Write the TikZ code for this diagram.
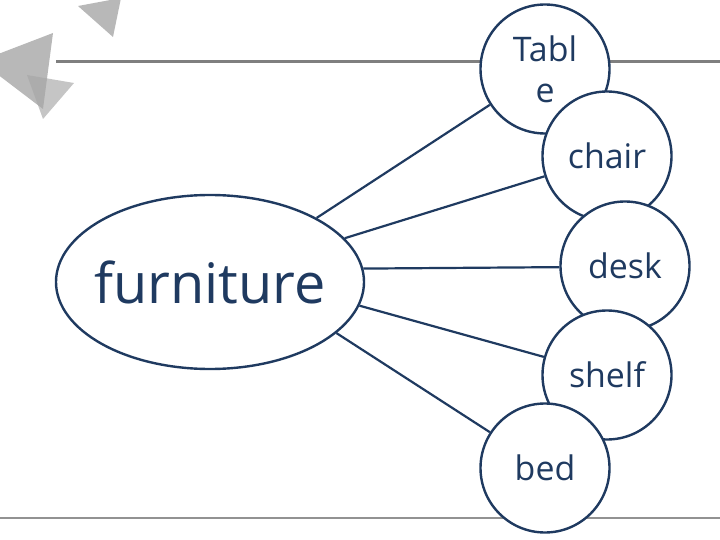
\documentclass[tikz,border=0pt]{standalone}
\usepackage{fontspec}
\setmainfont{Open Sans}
\usetikzlibrary{shapes.geometric}
\definecolor{navy}{HTML}{1F3A60}
\definecolor{rulegray}{HTML}{7F7F7F}
\definecolor{trigray}{HTML}{A6A6A6}
\tikzset{
  item/.style={circle, draw=navy, line width=2.4bp, fill=white, minimum size=129bp, inner sep=0pt, text=navy, font=\fontsize{34}{41}\selectfont, align=center},
  hub/.style={ellipse, draw=navy, line width=2.4bp, fill=white, minimum width=308bp, minimum height=174bp, inner sep=0pt, text=navy, font=\fontsize{56}{60}\selectfont},
  link/.style={draw=navy, line width=2.2bp},
  tri/.style={fill=trigray, draw=none, opacity=0.8}
}
\begin{document}
\begin{tikzpicture}[x=1bp,y=-1bp]
\useasboundingbox (0,0) rectangle (720,540);
% decorative triangles
\fill[tri] (78,6) -- (121,-2) -- (113,37) -- cycle;
\fill[tri] (53,33) -- (-20,61) -- (43,109) -- cycle;
\fill[tri, opacity=0.65] (27,75) -- (74,83) -- (43,119) -- cycle;
% rules
\draw[rulegray, line width=3bp] (56,62) -- (720,62);
\draw[rulegray!85, line width=2bp] (0,518) -- (720,518);
% nodes
\node[hub] (furn) at (210,282) {\makebox[0pt]{furniture}};
\node[item] (table) at (545,69) {Tabl\\e};
\node[item] (chair) at (607,156) {chair};
\node[item] (desk) at (625,266) {desk};
\node[item] (shelf) at (607,375) {shelf};
\node[item] (bed) at (545,468) {bed};
% connectors
\draw[link] (furn.31.9) -- (table.213);
\draw[link] (furn.18.8) -- (chair.198);
\draw[link] (furn.5.2) -- (desk.181);
\draw[link] (furn.-9.8) -- (shelf.164);
\draw[link] (furn.-22.6) -- (bed.147);
\end{tikzpicture}
\end{document}
